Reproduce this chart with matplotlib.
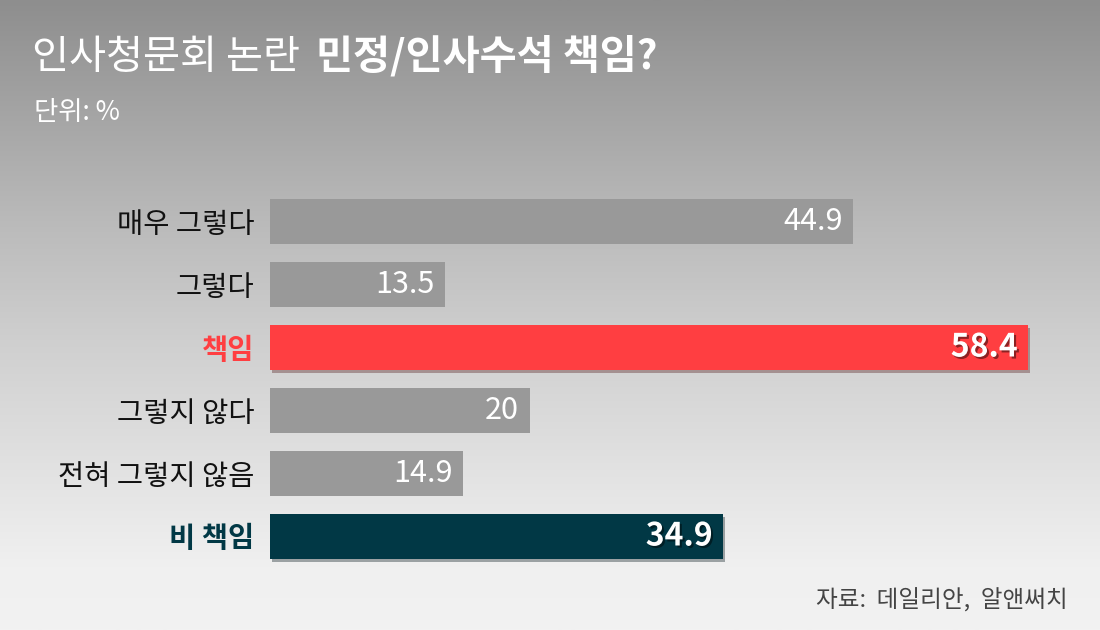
import numpy as np
import matplotlib.pyplot as plt
import matplotlib.patheffects as pe
from matplotlib.colors import LinearSegmentedColormap

plt.rcParams['font.family'] = ['Noto Sans CJK KR', 'DejaVu Sans']

# Data
categories = ['매우 그렇다', '그렇다', '책임', '그렇지 않다', '전혀 그렇지 않음', '비 책임']
values = [44.9, 13.5, 58.4, 20, 14.9, 34.9]
value_labels = ['44.9', '13.5', '58.4', '20', '14.9', '34.9']
bar_colors = ['#999999', '#999999', '#ff3e41', '#999999', '#999999', '#013845']
label_colors = ['#111111', '#111111', '#ff3e41', '#111111', '#111111', '#013845']
is_summary = [False, False, True, False, False, True]

W, H = 1100, 630
fig = plt.figure(figsize=(W / 100, H / 100), dpi=100)

# background gradient
bg = fig.add_axes([0, 0, 1, 1], zorder=-1)
cmap = LinearSegmentedColormap.from_list('bg', [(0, '#8e8e8e'), (0.35, '#bababa'),
                                                (0.55, '#d0d0d0'), (0.9, '#f0f0f0'),
                                                (1, '#f2f2f2')])
grad = np.linspace(0, 1, 256).reshape(-1, 1)
bg.imshow(grad, aspect='auto', cmap=cmap, extent=[0, 1, 1, 0])
bg.set_xlim(0, 1)
bg.set_ylim(1, 0)
bg.axis('off')

# main axes: x from 270px, 12.98 px per unit; rows 63 px apart
left, top, bottom = 270, 190, 568
ax = fig.add_axes([left / W, 1 - bottom / H, (W - left) / W, (bottom - top) / H])
ax.set_facecolor('none')
ax.set_xlim(0, (W - left) / 12.98)
ax.set_ylim(len(categories) - 0.5, -0.5)

y = np.arange(len(categories))
bars = ax.barh(y, values, height=0.715, color=bar_colors)
for b, s in zip(bars, is_summary):
    if s:
        b.set_path_effects([pe.SimplePatchShadow(offset=(1.5, -2), alpha=0.35), pe.Normal()])

for i, (v, lab, s) in enumerate(zip(values, value_labels, is_summary)):
    if s:
        ax.text(v - 0.8, i, lab, ha='right', va='center', color='white', fontsize=23,
                fontweight='bold',
                path_effects=[pe.SimplePatchShadow(offset=(1.5, -1.5), shadow_rgbFace='black',
                                                   alpha=0.45), pe.Normal()])
    else:
        ax.text(v - 0.8, i, lab, ha='right', va='center', color='white', fontsize=22,
                fontweight='light')

ax.set_yticks(y)
ax.set_yticklabels(categories, fontsize=20.5)
for t, c, s in zip(ax.get_yticklabels(), label_colors, is_summary):
    t.set_color(c)
    if s:
        t.set_fontweight('bold')
ax.tick_params(axis='y', length=0, pad=11)
ax.set_xticks([])
for sp in ax.spines.values():
    sp.set_visible(False)

# titles
fig.text(32 / W, 1 - 57 / H, '인사청문회 논란', color='white', fontsize=29,
         fontweight='light', va='center', ha='left')
fig.text(316 / W, 1 - 57 / H, '민정/인사수석 책임?', color='white', fontsize=29,
         fontweight='bold', va='center', ha='left')
fig.text(34 / W, 1 - 112 / H, '단위: %', color='white', fontsize=19,
         fontweight='light', va='center', ha='left')
fig.text(1068 / W, 1 - 600 / H, '자료:  데일리안,  알앤써치', color='#444444', fontsize=17,
         va='center', ha='right')

fig.savefig('out.png', dpi=100)
